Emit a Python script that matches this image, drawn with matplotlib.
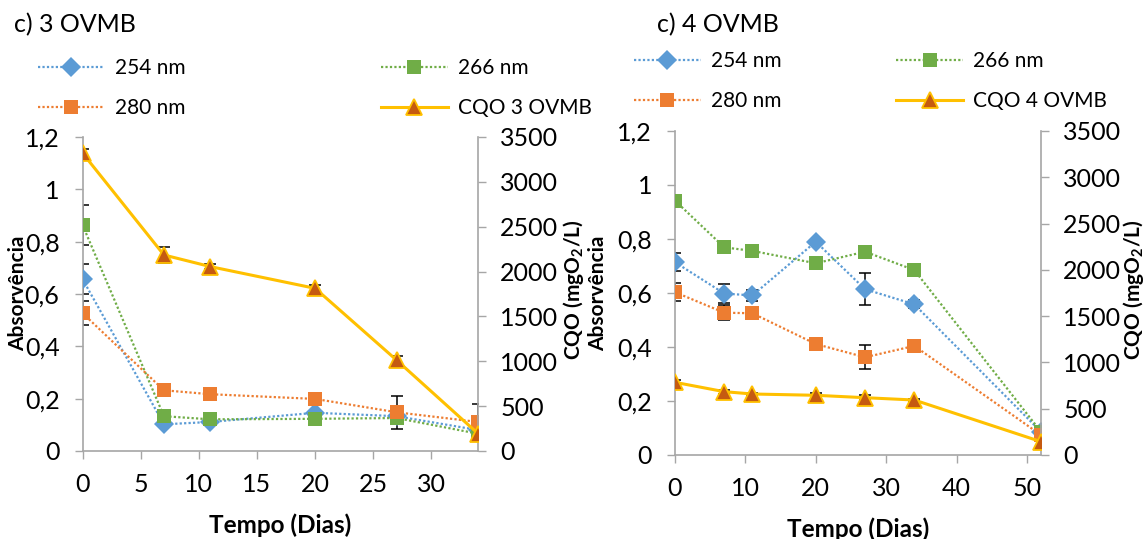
import matplotlib
matplotlib.use('Agg')
import numpy as np
import matplotlib.pyplot as plt
from matplotlib.ticker import FuncFormatter

plt.rcParams['font.family'] = ['Lato', 'DejaVu Sans']
plt.rcParams['mathtext.fontset'] = 'custom'
plt.rcParams['mathtext.rm'] = 'Lato'
plt.rcParams['mathtext.bf'] = 'Lato:bold'

# ---- dados: 3 OVMB ----
dias_3 = [0, 7, 11, 20, 27, 34]
abs254_3 = [0.657, 0.102, 0.111, 0.146, 0.133, 0.080]
abs266_3 = [0.864, 0.133, 0.121, 0.123, 0.126, 0.066]
abs280_3 = [0.527, 0.232, 0.217, 0.199, 0.148, 0.111]
cqo_3 = [3321, 2185, 2055, 1813, 1013, 194]
err254_3 = [0.056, 0, 0, 0, 0, 0]
err266_3 = [0.075, 0, 0, 0, 0, 0]
err280_3 = [0.046, 0, 0, 0, 0.064, 0.070]
errcqo_3 = [45, 90, 30, 40, 50, 0]

# ---- dados: 4 OVMB ----
dias_4 = [0, 7, 11, 20, 27, 34, 52]
abs254_4 = [0.714, 0.598, 0.591, 0.790, 0.614, 0.558, 0.086]
abs266_4 = [0.942, 0.769, 0.756, 0.710, 0.753, 0.685, 0.086]
abs280_4 = [0.603, 0.527, 0.525, 0.411, 0.362, 0.404, 0.074]
cqo_4 = [785, 684, 659, 645, 619, 594, 144]
err254_4 = [0.033, 0.034, 0.020, 0, 0.060, 0.015, 0]
err266_4 = [0, 0, 0, 0, 0, 0, 0]
err280_4 = [0.033, 0.028, 0, 0, 0.044, 0, 0]
errcqo_4 = [20, 20, 15, 30, 30, 10, 0]

C254, C266, C280 = '#5B9BD5', '#70AD47', '#ED7D31'
CCQO, CTRI = '#FFC000', '#C55A11'
AXC = '#A6A6A6'
FS_TICK = 18
FS_LEG = 15

W, H = 1147, 539
fig = plt.figure(figsize=(W / 100, H / 100), dpi=100)


def fx(px):
    return px / W


def fy(py):
    return 1 - py / H


def virgula(v, pos):
    return ('%g' % v).replace('.', ',')


def errbar(ax, x, y, e, z):
    x, y, e = np.asarray(x), np.asarray(y), np.asarray(e)
    m = e > 0
    if m.any():
        ax.errorbar(x[m], y[m], yerr=e[m], fmt='none', ecolor='black',
                    elinewidth=1.1, capsize=4, capthick=1.1, zorder=z)


def painel(box, dias, a254, a266, a280, cqo, e254, e266, e280, ecqo,
           xlim, xticks):
    ax = fig.add_axes(box)
    ax2 = ax.twinx()
    dot = dict(linestyle=(0, (1, 1)), lw=1.6, markeredgewidth=0)
    l1, = ax.plot(dias, a254, color=C254, marker='D', ms=10, zorder=3, **dot)
    l2, = ax.plot(dias, a266, color=C266, marker='s', ms=10.5, zorder=4, **dot)
    l3, = ax.plot(dias, a280, color=C280, marker='s', ms=10.5, zorder=5, **dot)
    errbar(ax, dias, a254, e254, 2)
    errbar(ax, dias, a266, e266, 2)
    errbar(ax, dias, a280, e280, 2)
    l4, = ax2.plot(dias, cqo, color=CCQO, lw=2.2, marker='^', ms=11,
                   markerfacecolor=CTRI, markeredgecolor=CCQO,
                   markeredgewidth=1.3, zorder=5)
    errbar(ax2, dias, cqo, ecqo, 4)

    ax.set_xlim(*xlim)
    ax.set_xticks(xticks)
    ax.set_ylim(0, 1.2)
    ax.set_yticks(np.arange(0, 1.21, 0.2))
    ax.yaxis.set_major_formatter(FuncFormatter(virgula))
    ax2.set_ylim(0, 3500)
    ax2.set_yticks(range(0, 3501, 500))

    for a in (ax, ax2):
        for s in a.spines.values():
            s.set_visible(False)
        a.tick_params(colors=AXC, labelcolor='black', labelsize=FS_TICK,
                      length=5.5, width=1, direction='out')
    ax.spines['left'].set_visible(True)
    ax.spines['bottom'].set_visible(True)
    ax2.spines['right'].set_visible(True)
    for s in (ax.spines['left'], ax.spines['bottom'], ax2.spines['right']):
        s.set_color(AXC)
        s.set_linewidth(1.2)
    ax.tick_params(axis='x', pad=10)
    ax.tick_params(axis='y', pad=11)
    ax2.tick_params(axis='y', pad=10.5)
    return [l1, l3, l2, l4]


# painel esquerdo
h3 = painel([fx(82.5), fy(451), fx(478) - fx(82.5), fy(137) - fy(451)],
            dias_3, abs254_3, abs266_3, abs280_3, cqo_3,
            err254_3, err266_3, err280_3, errcqo_3,
            (0, 34), range(0, 31, 5))
# painel direito
h4 = painel([fx(675), fy(455), fx(1041) - fx(675), fy(131) - fy(455)],
            dias_4, abs254_4, abs266_4, abs280_4, cqo_4,
            err254_4, err266_4, err280_4, errcqo_4,
            (0, 52), range(0, 51, 10))

cqo_lab = r'CQO (mgO$_\mathbf{2}$/L)'
for h, nome, x0, ty, cs in ((h3, '3 OVMB', 37.5, 58, 9.4),
                            (h4, '4 OVMB', 634, 51, 5.5)):
    fig.legend(h, ['254 nm', '280 nm', '266 nm', 'CQO ' + nome], ncol=2,
               loc='upper left', bbox_to_anchor=(fx(x0), fy(ty)),
               frameon=False, fontsize=FS_LEG, handlelength=3.2,
               handletextpad=0.5, columnspacing=cs, labelspacing=0.95,
               borderpad=0, borderaxespad=0)

fig.text(fx(14), fy(25), 'c) 3 OVMB', fontsize=18, va='center', ha='left')
fig.text(fx(657), fy(25), 'c) 4 OVMB', fontsize=18, va='center', ha='left')

for x in (18, 598):
    fig.text(fx(x), fy(293), 'Absorvência', rotation=90, fontsize=15,
             fontweight='bold', ha='center', va='center')
for x in (574, 1134):
    fig.text(fx(x), fy(290), cqo_lab, rotation=90, fontsize=15,
             fontweight='bold', ha='center', va='center')
fig.text(fx(280), fy(525), 'Tempo (Dias)', fontsize=17.5, fontweight='bold',
         ha='center', va='center')
fig.text(fx(858), fy(529), 'Tempo (Dias)', fontsize=17.5, fontweight='bold',
         ha='center', va='center')

fig.savefig('out.png', dpi=100, facecolor='white')
